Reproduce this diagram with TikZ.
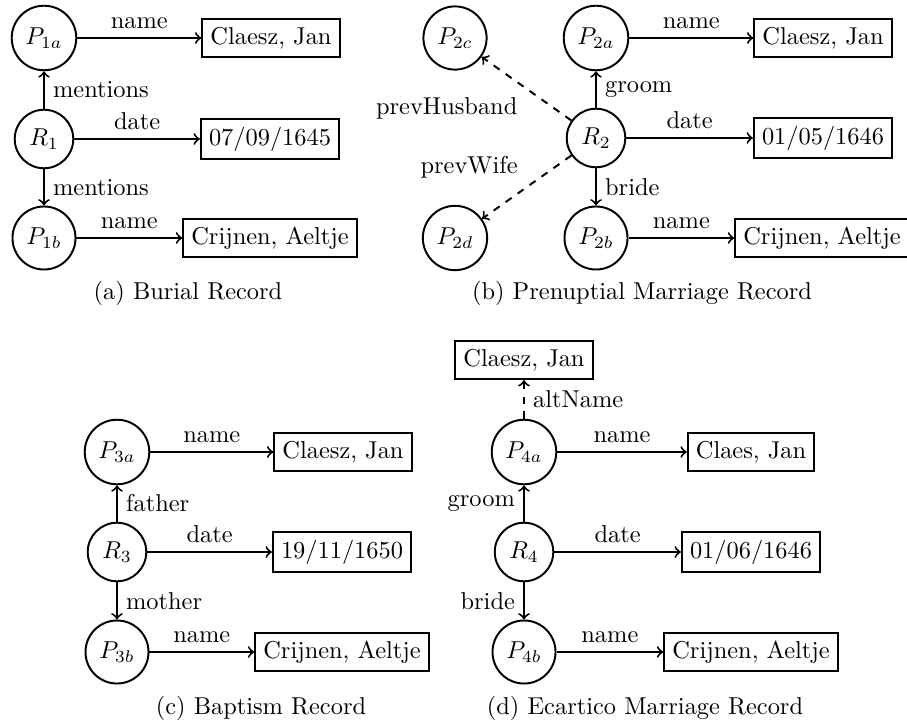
\documentclass[tikz,border=0pt]{standalone}
\begin{document}
\begin{tikzpicture}[x=0.4098pt,y=-0.4098pt,
  ent/.style={circle,draw,thick},
  lit/.style={rectangle,draw,thick},
  edge/.style={->,thick},
  dedge/.style={->,thick,dashed},
  captext/.style={inner sep=0pt}]
\useasboundingbox (0,0) rectangle (907,723);
% (a)
\node[ent] (p1a) at (44,38) {$P_{1a}$};
\node[ent] (r1) at (44,139) {$R_1$};
\node[ent] (p1b) at (44,238) {$P_{1b}$};
\node[lit] (n1a) at (271,38) {Claesz, Jan};
\node[lit] (d1) at (270,139) {07/09/1645};
\node[lit] (n1b) at (270,238) {Crijnen, Aeltje};
\draw[edge] (p1a) -- node[above] {name} (n1a);
\draw[edge] (r1) -- node[above] {date} (d1);
\draw[edge] (p1b) -- node[above] {name} (n1b);
\draw[edge] (r1) -- node[right] {mentions} (p1a);
\draw[edge] (r1) -- node[right] {mentions} (p1b);
\node[captext] (capa) at (188,293) {(a) Burial Record};
% (b)
\node[ent] (p2c) at (455,38) {$P_{2c}$};
\node[ent] (p2a) at (596,38) {$P_{2a}$};
\node[ent] (r2) at (596,138) {$R_2$};
\node[ent] (p2b) at (596,238) {$P_{2b}$};
\node[ent] (p2d) at (455,238) {$P_{2d}$};
\node[lit] (n2a) at (823,38) {Claesz, Jan};
\node[lit] (d2) at (823,138) {01/05/1646};
\node[lit] (n2b) at (822,238) {Crijnen, Aeltje};
\draw[edge] (p2a) -- node[above] {name} (n2a);
\draw[edge] (r2) -- node[above] {date} (d2);
\draw[edge] (p2b) -- node[above] {name} (n2b);
\draw[edge] (r2) -- node[right] {groom} (p2a);
\draw[edge] (r2) -- node[right] {bride} (p2b);
\draw[dedge] (r2) -- node[below left] {prevHusband} (p2c);
\draw[dedge] (r2) -- node[above left] {prevWife} (p2d);
\node[captext] (capb) at (642,293) {(b) Prenuptial Marriage Record};
% (c)
\node[ent] (p3a) at (117,452) {$P_{3a}$};
\node[ent] (r3) at (117,552) {$R_3$};
\node[ent] (p3b) at (117,652) {$P_{3b}$};
\node[lit] (n3a) at (343,452) {Claesz, Jan};
\node[lit] (d3) at (342,552) {19/11/1650};
\node[lit] (n3b) at (342,652) {Crijnen, Aeltje};
\draw[edge] (p3a) -- node[above] {name} (n3a);
\draw[edge] (r3) -- node[above] {date} (d3);
\draw[edge] (p3b) -- node[above] {name} (n3b);
\draw[edge] (r3) -- node[right] {father} (p3a);
\draw[edge] (r3) -- node[right] {mother} (p3b);
\node[captext] (capc) at (261,708) {(c) Baptism Record};
% (d)
\node[lit] (alt) at (524,360) {Claesz, Jan};
\node[ent] (p4a) at (524,452) {$P_{4a}$};
\node[ent] (r4) at (524,552) {$R_4$};
\node[ent] (p4b) at (524,652) {$P_{4b}$};
\node[lit] (n4a) at (751,452) {Claes, Jan};
\node[lit] (d4) at (751,552) {01/06/1646};
\node[lit] (n4b) at (751,652) {Crijnen, Aeltje};
\draw[edge] (p4a) -- node[above] {name} (n4a);
\draw[edge] (r4) -- node[above] {date} (d4);
\draw[edge] (p4b) -- node[above] {name} (n4b);
\draw[edge] (r4) -- node[left] {groom} (p4a);
\draw[edge] (r4) -- node[left] {bride} (p4b);
\draw[dedge] (p4a) -- node[right] {altName} (alt);
\node[captext] (capd) at (645,708) {(d) Ecartico Marriage Record};
\end{tikzpicture}
\end{document}
